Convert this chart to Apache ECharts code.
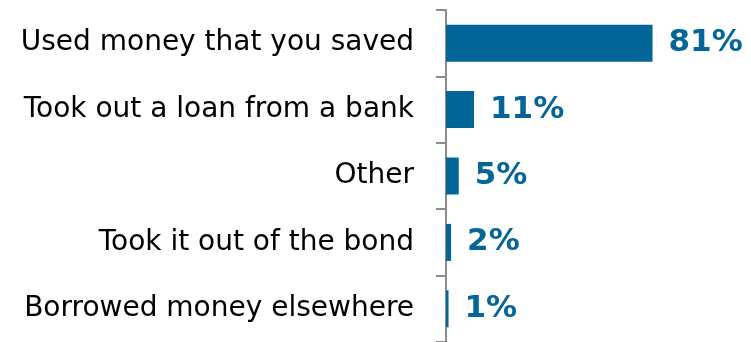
<!DOCTYPE html>
<html>
<head>
<meta charset="utf-8">
<script src="https://cdn.jsdelivr.net/npm/echarts@6/dist/echarts.min.js"></script>
<style>
  html, body { margin: 0; padding: 0; background: #fff; }
  #chart { width: 751px; height: 342px; }
</style>
</head>
<body>
<div id="chart"></div>
<script>
// Sources of money used, share of respondents (%)
const categories = [
  'Used money that you saved',
  'Took out a loan from a bank',
  'Other',
  'Took it out of the bond',
  'Borrowed money elsewhere'
];
const shares = [81, 11, 5, 2, 1];

const BLUE = '#036598';

const chart = echarts.init(document.getElementById('chart'), null, { renderer: 'canvas' });
chart.setOption({
  animation: false,
  grid: { left: 446, top: 10, width: 255, height: 334 },
  xAxis: {
    type: 'value',
    min: 0,
    max: 100,
    show: false
  },
  yAxis: {
    type: 'category',
    data: categories,
    inverse: true,
    axisLine: { show: true, lineStyle: { color: '#8c8c8c', width: 2 } },
    axisTick: { show: true, length: 10, lineStyle: { color: '#8c8c8c', width: 2 } },
    axisLabel: {
      margin: 32,
      color: '#000',
      fontFamily: 'DejaVu Sans',
      fontSize: 28
    },
    splitLine: { show: false }
  },
  series: [{
    type: 'bar',
    data: shares,
    barWidth: 37,
    itemStyle: { color: BLUE },
    label: {
      show: true,
      position: 'right',
      distance: 16,
      formatter: '{c}%',
      color: BLUE,
      fontFamily: 'DejaVu Sans',
      fontWeight: 'bold',
      fontSize: 31
    }
  }]
});
</script>
</body>
</html>
